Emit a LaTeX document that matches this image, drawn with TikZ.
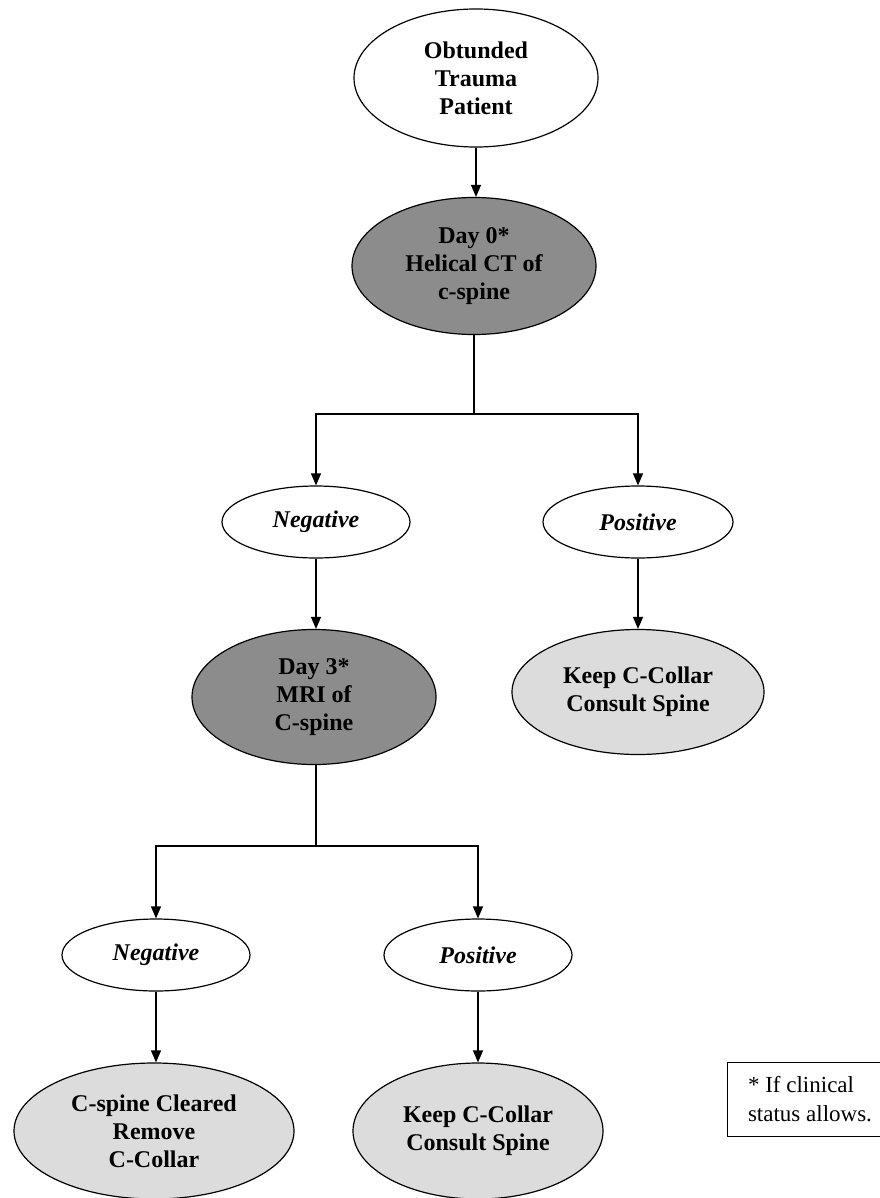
\documentclass[tikz,border=0pt]{standalone}
\usepackage{fontspec}
\setmainfont{Liberation Serif}
\usetikzlibrary{shapes.geometric,arrows.meta}
\definecolor{darkfill}{HTML}{8C8C8C}
\definecolor{lightfill}{HTML}{DCDCDC}
\tikzset{
  every node/.style={font=\fontsize{24}{28}\selectfont},
  oval/.style={ellipse,draw=black,line width=1.2pt,inner sep=0pt,align=center,font=\fontsize{24}{28}\selectfont\bfseries},
  whiteoval/.style={oval,fill=white},
  darkoval/.style={oval,fill=darkfill},
  lightoval/.style={oval,fill=lightfill},
  resultoval/.style={oval,fill=white,font=\fontsize{24}{28}\selectfont\bfseries\itshape},
  conn/.style={draw=black,line width=1.2pt},
  arr/.style={conn,-{Triangle[width=10pt,length=12pt]}},
  notebox/.style={draw=black,line width=1pt,fill=white,align=left,inner sep=0pt,minimum width=166pt,minimum height=74pt,font=\fontsize{23}{29}\selectfont}
}
\begin{document}
\begin{tikzpicture}[x=1pt,y=-1pt]
\useasboundingbox[fill=white] (0,0) rectangle (879,1198);
\node[whiteoval,minimum width=244pt,minimum height=138pt] (top) at (476,78) {Obtunded\\Trauma\\Patient};
\node[darkoval,minimum width=244pt,minimum height=137pt] (day0) at (474,266) {Day 0*\\Helical CT of\\c-spine};
\coordinate (b1) at (474,414);
\node[resultoval,minimum width=188pt,minimum height=72pt] (neg1) at (316,522) {Negative};
\node[resultoval,minimum width=190pt,minimum height=72pt] (pos1) at (638,522) {Positive};
\node[darkoval,minimum width=244pt,minimum height=135pt] (day3) at (314,697) {Day 3*\\MRI of\\C-spine};
\node[lightoval,minimum width=252pt,minimum height=125pt] (keep1) at (638,692) {Keep C-Collar\\Consult Spine};
\coordinate (b2) at (316,846);
\node[resultoval,minimum width=188pt,minimum height=72pt] (neg2) at (156,955) {Negative};
\node[resultoval,minimum width=188pt,minimum height=72pt] (pos2) at (478,955) {Positive};
\node[lightoval,minimum width=280pt,minimum height=136pt] (clear) at (154,1131) {C-spine Cleared\\Remove\\C-Collar};
\node[lightoval,minimum width=250pt,minimum height=136pt] (keep2) at (478,1131) {Keep C-Collar\\Consult Spine};
\node[notebox] (note) at (810,1099) {* If clinical\\status allows.};
\draw[arr] (top.south) -- (top.south |- day0.north);
\draw[conn] (day0.south) -- (b1);
\draw[arr] (b1) -| (neg1.north);
\draw[arr] (b1) -| (pos1.north);
\draw[arr] (neg1.south) -- (neg1.south |- day3.north);
\draw[arr] (pos1.south) -- (pos1.south |- keep1.north);
\draw[conn] (day3.south -| b2) -- (b2);
\draw[arr] (b2) -| (neg2.north);
\draw[arr] (b2) -| (pos2.north);
\draw[arr] (neg2.south) -- (neg2.south |- clear.north);
\draw[arr] (pos2.south) -- (pos2.south |- keep2.north);
\end{tikzpicture}
\end{document}
